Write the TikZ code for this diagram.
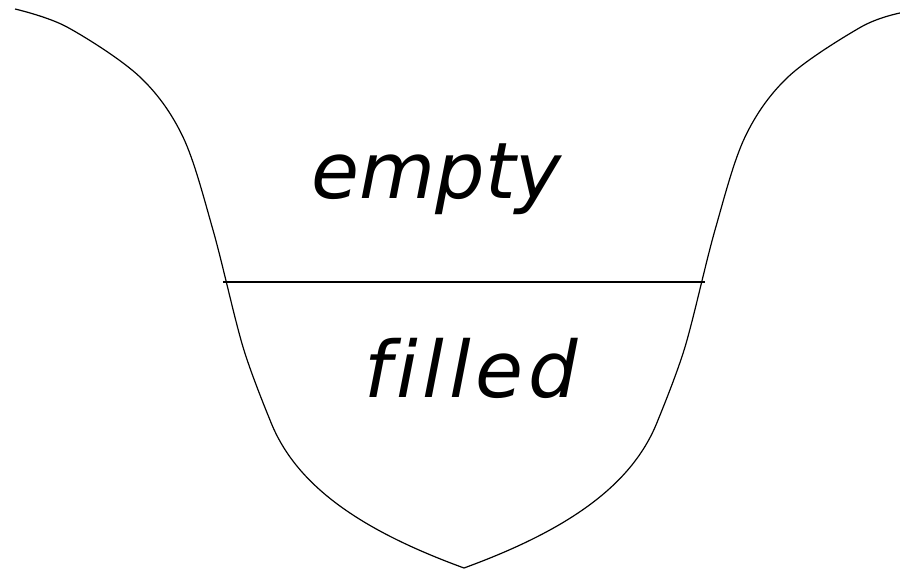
\documentclass[tikz,border=0pt]{standalone}
\usepackage{fontspec}
\newfontfamily\handfont[Ligatures=NoCommon]{DejaVu Sans}
\begin{document}
\begin{tikzpicture}[x=1pt,y=-1pt,
  wall/.style={line width=1.2pt, black, line join=miter},
  label/.style={font=\handfont\itshape\fontsize{78}{78}\selectfont, anchor=base, inner sep=0pt}]
\useasboundingbox (0,0) rectangle (900,570);
% well walls (left and right halves meet at the sharp bottom point)
\coordinate (apex) at (464,568);
\draw[wall] plot[smooth, tension=0.55] coordinates {(15,9) (67,27) (140,77) (183,137) (213,230) (243,347) (270,420)}
  .. controls (295,485) and (360,530) .. (apex)
  .. controls (568,530) and (633,485) .. (658,420)
  -- plot[smooth, tension=0.55] coordinates {(658,420) (685,347) (715,230) (745,137) (788,77) (861,27) (900,13)};
% level line
\coordinate (lineL) at (223,282);
\coordinate (lineR) at (705,282);
\draw[wall] (lineL) -- (lineR);
% labels
\node[label] (empty) at (437,198) {empty};
\node[label, font=\handfont\itshape\fontsize{78}{78}\selectfont\addfontfeatures{LetterSpace=6}] (filled) at (471,397) {filled};
\end{tikzpicture}
\end{document}
